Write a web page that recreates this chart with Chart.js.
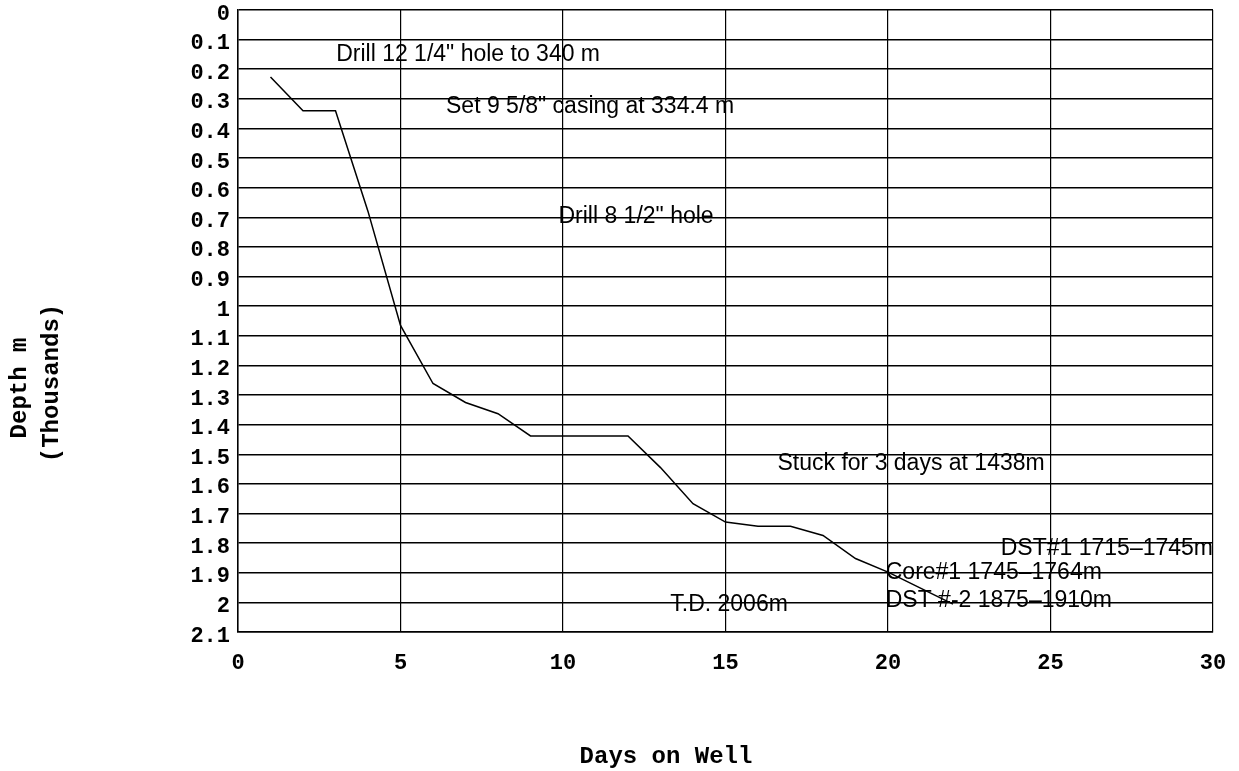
<!DOCTYPE html>
<html>
<head>
<meta charset="utf-8">
<script src="https://cdn.jsdelivr.net/npm/chart.js@4"></script>
<style>
  html, body { margin: 0; padding: 0; background: #fff; }
  #wrap { width: 1239px; height: 771px; position: relative; }
</style>
</head>
<body>
<div id="wrap"><canvas id="wellChart"></canvas></div>
<script>
// depth vs days, depth in thousands of metres
const days = [1, 2, 3, 4, 5, 6, 7, 8, 9, 10, 11, 12, 13, 14, 15, 16, 17, 18, 19, 20, 21, 22];
const depths = [0.226, 0.34, 0.34, 0.68, 1.065, 1.261, 1.325, 1.363, 1.438, 1.438, 1.438, 1.438,
  1.545, 1.667, 1.729, 1.743, 1.743, 1.774, 1.852, 1.898, 1.952, 2.006];

const xTickLabels = ["0", "5", "10", "15", "20", "25", "30"];
const yTickLabels = ["0", "0.1", "0.2", "0.3", "0.4", "0.5", "0.6", "0.7", "0.8", "0.9", "1",
  "1.1", "1.2", "1.3", "1.4", "1.5", "1.6", "1.7", "1.8", "1.9", "2", "2.1"];

// notes written on the chart (day, depth)
const noteTexts = [
  'Drill 12 1/4" hole to 340 m',
  'Set 9 5/8" casing at 334.4 m',
  'Drill 8 1/2" hole',
  'Stuck for 3 days at 1438m',
  'DST#1 1715\u20131745m',
  'Core#1 1745\u20131764m',
  'DST #-2 1875\u20131910m',
  'T.D. 2006m'
];
const noteDays = [3.02, 6.4, 9.86, 16.6, 30, 19.93, 19.93, 13.3];
const noteDepths = [0.152, 0.328, 0.699, 1.53, 1.818, 1.899, 1.993, 2.007];
const noteAlign = ["left", "left", "left", "left", "right", "left", "left", "left"];

const xTitle = "Days on Well";
const yTitle = ["Depth m", "(Thousands)"];

const monoFont = '"Liberation Mono", "DejaVu Sans Mono", monospace';

const notesPlugin = {
  id: "notes",
  afterDatasetsDraw(chart) {
    const ctx = chart.ctx;
    const xs = chart.scales.x;
    const ys = chart.scales.y;
    ctx.save();
    ctx.fillStyle = "#000";
    ctx.font = '23px "Liberation Sans", Arial, sans-serif';
    ctx.textBaseline = "middle";
    noteTexts.forEach((t, i) => {
      ctx.textAlign = noteAlign[i];
      ctx.fillText(t, xs.getPixelForValue(noteDays[i]), ys.getPixelForValue(noteDepths[i]));
    });
    ctx.restore();
  },
  afterDraw(chart) {
    const ctx = chart.ctx;
    ctx.save();
    ctx.fillStyle = "#000";
    ctx.font = "bold 24px " + monoFont;
    ctx.textAlign = "center";
    ctx.textBaseline = "middle";
    ctx.fillText(xTitle, 666, 757);
    ctx.save();
    ctx.translate(20, 388);
    ctx.rotate(-Math.PI / 2);
    ctx.fillText(yTitle[0], 0, 0);
    ctx.restore();
    ctx.save();
    ctx.translate(52, 383);
    ctx.rotate(-Math.PI / 2);
    ctx.fillText(yTitle[1], 0, 0);
    ctx.restore();
    ctx.restore();
  }
};

new Chart(document.getElementById("wellChart"), {
  type: "line",
  data: {
    datasets: [{
      data: days.map((d, i) => ({ x: d, y: depths[i] })),
      borderColor: "#000",
      borderWidth: 1.5,
      pointRadius: 0,
      tension: 0,
      fill: false
    }]
  },
  options: {
    responsive: true,
    maintainAspectRatio: false,
    animation: false,
    layout: { padding: { left: 0, top: 10, right: 26, bottom: 0 } },
    plugins: {
      legend: { display: false },
      tooltip: { enabled: false }
    },
    scales: {
      x: {
        type: "linear",
        min: 0,
        max: 30,
        afterFit(scale) { scale.height = 139; },
        afterBuildTicks(scale) {
          scale.ticks = xTickLabels.map(v => ({ value: Number(v) }));
        },
        ticks: {
          color: "#000",
          padding: 0,
          maxRotation: 0,
          font: { family: monoFont, size: 22, weight: "bold" },
          callback: (v, i) => xTickLabels[i]
        },
        grid: { color: "#000", lineWidth: 1.2, drawTicks: true, tickLength: 18, tickColor: "rgba(0,0,0,0)" },
        border: { color: "#000", width: 1.5 }
      },
      y: {
        type: "linear",
        min: 0,
        max: 2.1,
        reverse: true,
        afterFit(scale) { scale.width = 238; },
        afterBuildTicks(scale) {
          scale.ticks = yTickLabels.map(v => ({ value: Number(v) }));
        },
        ticks: {
          color: "#000",
          padding: 0,
          labelOffset: 4,
          autoSkip: false,
          font: { family: monoFont, size: 22, weight: "bold", lineHeight: 0.9 },
          callback: (v, i) => yTickLabels[i]
        },
        grid: { color: "#000", lineWidth: 1.5, drawTicks: true, tickLength: 8, tickColor: "rgba(0,0,0,0)" },
        border: { color: "#000", width: 1.5 }
      }
    }
  },
  plugins: [notesPlugin]
});
</script>
</body>
</html>
